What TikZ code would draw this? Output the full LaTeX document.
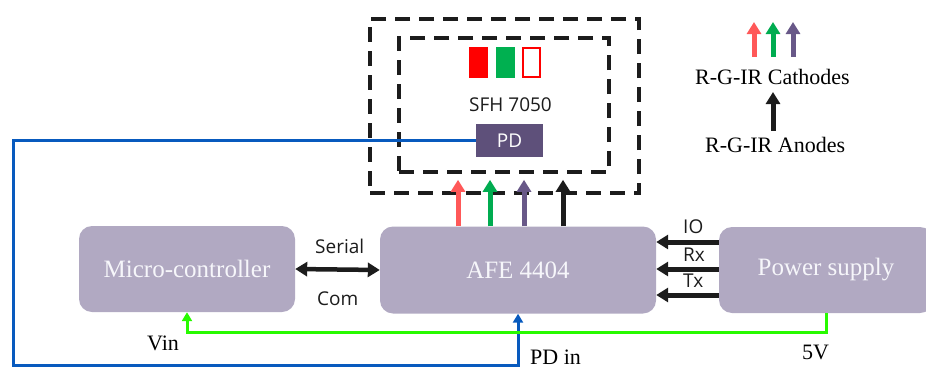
\documentclass[tikz,border=0pt]{standalone}
\usepackage{fontspec}
\setmainfont{Liberation Serif}
\newfontfamily\sansf{Open Sans}
\usetikzlibrary{arrows.meta}
\definecolor{boxfill}{RGB}{177,169,194}
\definecolor{boxtext}{RGB}{246,246,250}
\definecolor{pdfill}{RGB}{94,80,122}
\definecolor{arrred}{RGB}{255,88,88}
\definecolor{arrgreen}{RGB}{0,172,80}
\definecolor{arrpurple}{RGB}{104,88,136}
\definecolor{arrblack}{RGB}{28,28,28}
\definecolor{ledred}{RGB}{255,0,0}
\definecolor{ledgreen}{RGB}{0,176,80}
\definecolor{pdblue}{RGB}{8,90,190}
\definecolor{vgreen}{RGB}{40,250,0}
\tikzset{
  block/.style={fill=boxfill, rounded corners=13pt, inner sep=0pt, text=boxtext, font=\fontsize{25}{28}\selectfont},
  dashbox/.style={draw=arrblack, line width=3.6pt, dash pattern=on 15pt off 9pt, inner sep=0pt},
  lbl/.style={inner sep=0pt, anchor=base west, font=\fontsize{22}{24}\selectfont},
  slbl/.style={inner sep=0pt, anchor=base west, font=\sansf\fontsize{19}{22}\selectfont, text=arrblack},
  fat/.style={line width=5pt, -{Triangle[width=14pt,length=12pt]}},
  thin/.style={line width=3pt, -{Triangle[width=10pt,length=9pt]}},
}
\begin{document}
\begin{tikzpicture}[x=1pt,y=-1pt]
\useasboundingbox (0,0) rectangle (926,367);
\clip (0,0) rectangle (926,367);
% blocks
\node[block, minimum width=216pt, minimum height=86pt] (micro) at (187,269) {Micro-controller};
\node[block, minimum width=276pt, minimum height=87pt] (afe) at (518,270) {AFE 4404};
\node[block, minimum width=214pt, minimum height=86pt] (power) at (826,270) {Power supply};
% sensor package
\node[dashbox, minimum width=269pt, minimum height=174pt] (outer) at (504.5,106) {};
\node[dashbox, minimum width=210pt, minimum height=134pt] (inner) at (504,105) {};
\node[fill=ledred, minimum width=19pt, minimum height=31pt, inner sep=0pt] (ledr) at (478.5,62.5) {};
\node[fill=ledgreen, minimum width=19pt, minimum height=31pt, inner sep=0pt] (ledg) at (505.5,62.5) {};
\node[draw=ledred, line width=1.6pt, minimum width=17.5pt, minimum height=29.5pt, inner sep=0pt] (ledir) at (531.5,62.5) {};
\node[slbl] (sfh) at (469,111) {SFH 7050};
\node[fill=pdfill, minimum width=67pt, minimum height=33pt, inner sep=0pt, text=white, font=\sansf\fontsize{19}{22}\selectfont] (pd) at (509.5,140.5) {PD};
% LED drive arrows
\coordinate (ot) at ([yshift=15pt]outer.south);
\coordinate (ar) at ([xshift=-60pt]afe.north);
\coordinate (ag) at ([xshift=-28pt]afe.north);
\coordinate (ap) at ([xshift=6pt]afe.north);
\coordinate (ab) at ([xshift=45pt]afe.north);
\draw[fat, arrred] (ar) -- (ar |- ot);
\draw[fat, arrgreen] (ag) -- (ag |- ot);
\draw[fat, arrpurple] (ap) -- (ap |- ot);
\draw[fat, arrblack] (ab) -- (ab |- ot);
% serial
\draw[line width=4.5pt, arrblack, {Triangle[width=14pt,length=12pt]}-{Triangle[width=14pt,length=12pt]}] (micro.east) -- (afe.west);
\node[slbl] (serial) at (315,253) {Serial};
\node[slbl] (com) at (317,305) {Com};
% IO Rx Tx
\coordinate (pio) at ([yshift=28pt]power.west);
\coordinate (prx) at ([yshift=1pt]power.west);
\coordinate (ptx) at ([yshift=-25pt]power.west);
\draw[fat, arrblack] (pio) -- (pio -| afe.east);
\draw[fat, arrblack] (prx) -- (prx -| afe.east);
\draw[fat, arrblack] (ptx) -- (ptx -| afe.east);
\node[slbl] (io) at (683,233) {IO};
\node[slbl] (rx) at (683,261) {Rx};
\node[slbl] (tx) at (683,287) {Tx};
% PD line
\draw[thin, pdblue] (pd.west) -| (13,365) -| (afe.south);
\node[lbl] (pdin) at (530,364) {PD in};
% power line
\draw[thin, vgreen] (power.south) -- ++(0,19) -| (micro.south);
\node[lbl] (vin) at (147,350) {Vin};
\node[lbl] (fivev) at (802,359) {5V};
% legend
\node[lbl] (cath) at (695,84) {R-G-IR Cathodes};
\node[lbl] (anod) at (705,152) {R-G-IR Anodes};
\coordinate (lr) at (754,22);
\coordinate (lg) at (773,22);
\coordinate (lp) at (793,22);
\coordinate (lb) at (773,92);
\draw[fat, arrred] (lr |- cath.north) ++(0,-12) -- (lr);
\draw[fat, arrgreen] (lg |- cath.north) ++(0,-12) -- (lg);
\draw[fat, arrpurple] (lp |- cath.north) ++(0,-12) -- (lp);
\draw[fat, arrblack] (lb |- anod.north) ++(0,-6) -- (lb);
\end{tikzpicture}
\end{document}
